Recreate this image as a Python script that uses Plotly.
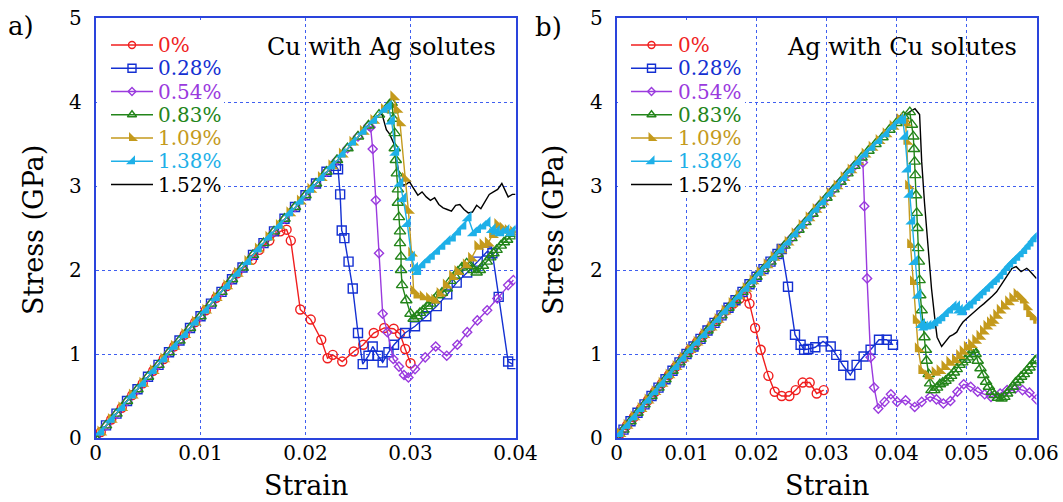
import plotly.graph_objects as go

W, H = 1063, 502

# ---------------- shared elastic loading branch ----------------
cu_load_strain = [0.0, 0.0005, 0.001, 0.0015, 0.002, 0.0025, 0.003, 0.0035, 0.004, 0.0045,
                  0.005, 0.0055, 0.006, 0.0065, 0.007, 0.0075, 0.008, 0.0085, 0.009, 0.0095,
                  0.010, 0.0105, 0.011, 0.0115, 0.012, 0.0125, 0.013, 0.0135, 0.014, 0.0145,
                  0.015, 0.0155, 0.016, 0.0165, 0.017, 0.0175, 0.018, 0.0185, 0.019, 0.0195,
                  0.020, 0.0205, 0.021, 0.0215, 0.022, 0.0225, 0.023, 0.0235, 0.024, 0.0245,
                  0.025, 0.0255, 0.026, 0.0265, 0.027, 0.0275, 0.028]
cu_load_stress = [0.00, 0.07, 0.15, 0.22, 0.29, 0.36, 0.44, 0.51, 0.58, 0.65,
                  0.73, 0.80, 0.87, 0.94, 1.02, 1.09, 1.16, 1.23, 1.31, 1.38,
                  1.45, 1.52, 1.60, 1.67, 1.74, 1.81, 1.89, 1.96, 2.03, 2.10,
                  2.18, 2.25, 2.32, 2.39, 2.46, 2.53, 2.61, 2.68, 2.75, 2.82,
                  2.89, 2.96, 3.03, 3.10, 3.17, 3.24, 3.31, 3.38, 3.45, 3.52,
                  3.59, 3.65, 3.72, 3.78, 3.85, 3.91, 3.97]

ag_load_strain = [0.0, 0.0005, 0.001, 0.0015, 0.002, 0.0025, 0.003, 0.0035, 0.004, 0.0045,
                  0.005, 0.0055, 0.006, 0.0065, 0.007, 0.0075, 0.008, 0.0085, 0.009, 0.0095,
                  0.010, 0.0105, 0.011, 0.0115, 0.012, 0.0125, 0.013, 0.0135, 0.014, 0.0145,
                  0.015, 0.0155, 0.016, 0.0165, 0.017, 0.0175, 0.018, 0.0185, 0.019, 0.0195,
                  0.020, 0.0205, 0.021, 0.0215, 0.022, 0.0225, 0.023, 0.0235, 0.024, 0.0245,
                  0.025, 0.0255, 0.026, 0.0265, 0.027, 0.0275, 0.028, 0.0285, 0.029, 0.0295,
                  0.030, 0.0305, 0.031, 0.0315, 0.032, 0.0325, 0.033, 0.0335, 0.034, 0.0345,
                  0.035, 0.0355, 0.036, 0.0365, 0.037, 0.0375, 0.038, 0.0385, 0.039, 0.0395,
                  0.040, 0.0405, 0.041, 0.0415]
ag_load_stress = [0.00, 0.05, 0.10, 0.15, 0.20, 0.25, 0.30, 0.35, 0.40, 0.45,
                  0.50, 0.55, 0.60, 0.65, 0.70, 0.75, 0.80, 0.85, 0.90, 0.95,
                  1.00, 1.05, 1.09, 1.14, 1.18, 1.23, 1.28, 1.32, 1.37, 1.41,
                  1.46, 1.51, 1.55, 1.60, 1.64, 1.69, 1.74, 1.78, 1.83, 1.87,
                  1.92, 1.97, 2.01, 2.06, 2.10, 2.15, 2.19, 2.24, 2.29, 2.33,
                  2.38, 2.43, 2.48, 2.53, 2.57, 2.62, 2.67, 2.72, 2.77, 2.81,
                  2.86, 2.91, 2.96, 3.00, 3.05, 3.10, 3.15, 3.19, 3.24, 3.29,
                  3.34, 3.38, 3.42, 3.46, 3.50, 3.54, 3.58, 3.62, 3.67, 3.71,
                  3.75, 3.79, 3.83, 3.86]

# ---------------- a) Cu with Ag solutes: post-yield branches ----------------
cu_0_strain = [0.0149, 0.0156, 0.01655, 0.0176, 0.0182, 0.0186, 0.0195, 0.0205, 0.0215, 0.0221,
               0.0226, 0.0235, 0.0246, 0.0255, 0.0265, 0.0275, 0.0284, 0.0290, 0.0295, 0.0300]
cu_0_stress = [2.12, 2.24, 2.35, 2.46, 2.48, 2.35, 1.53, 1.41, 1.17, 0.95,
               0.99, 0.91, 1.03, 1.11, 1.25, 1.31, 1.30, 1.24, 1.06, 0.89]

cu_028_strain = [0.0229, 0.0231, 0.0233, 0.02345, 0.0237, 0.0241, 0.0245, 0.0250, 0.02545, 0.0260,
                 0.0264, 0.0269, 0.02735, 0.0279, 0.02843, 0.02948, 0.03043, 0.0315, 0.0325, 0.0335,
                 0.0344, 0.0354, 0.0364, 0.0373, 0.0378, 0.0384, 0.0393, 0.0397]
cu_028_stress = [3.24, 3.20, 2.90, 2.47, 2.38, 2.10, 1.78, 1.25, 0.88, 0.98,
                 1.09, 0.98, 0.90, 1.02, 1.11, 1.25, 1.33, 1.45, 1.57, 1.71,
                 1.85, 1.97, 2.10, 2.22, 2.20, 1.68, 0.91, 0.88]

cu_054_strain = [0.0262, 0.0264, 0.0267, 0.0270, 0.02735, 0.0278, 0.02836, 0.0289, 0.02938, 0.0298,
                 0.03043, 0.0314, 0.0324, 0.03345, 0.03446, 0.0354, 0.03636, 0.0373, 0.03827, 0.0393,
                 0.0398]
cu_054_stress = [3.70, 3.44, 2.83, 2.20, 1.48, 1.26, 0.94, 0.85, 0.75, 0.72,
                 0.82, 0.96, 1.09, 0.98, 1.11, 1.26, 1.40, 1.52, 1.66, 1.82,
                 1.88]

cu_083_strain = [0.0282, 0.0283, 0.02836, 0.0285, 0.0285, 0.0286, 0.0287, 0.0288, 0.0288, 0.0289,
                 0.0290, 0.0290, 0.0291, 0.0291, 0.0292, 0.0296, 0.0300, 0.0303, 0.0306, 0.0309,
                 0.0312, 0.0316, 0.0319, 0.0322, 0.0326, 0.0330, 0.03345, 0.0338, 0.0342, 0.0345,
                 0.0349, 0.03535, 0.0357, 0.0360, 0.0363, 0.0366, 0.0369, 0.03726, 0.0376, 0.0379,
                 0.0382, 0.0386, 0.0389, 0.0392, 0.0395, 0.0398, 0.0400]
cu_083_stress = [3.99, 3.90, 3.80, 3.63, 3.45, 3.31, 3.15, 2.96, 2.80, 2.63,
                 2.46, 2.32, 2.16, 2.00, 1.82, 1.64, 1.48, 1.42, 1.45, 1.49,
                 1.52, 1.57, 1.60, 1.64, 1.70, 1.73, 1.78, 1.87, 1.93, 1.98,
                 2.03, 2.08, 2.05, 2.00, 1.97, 2.00, 2.05, 2.10, 2.15, 2.20,
                 2.24, 2.29, 2.33, 2.36, 2.40, 2.43, 2.45]

cu_109_strain = [0.0284, 0.0287, 0.0290, 0.0295, 0.0298, 0.0301, 0.0303, 0.0306, 0.0312, 0.0318,
                 0.0323, 0.0328, 0.0334, 0.0340, 0.0345, 0.0353, 0.0358, 0.0364, 0.0369, 0.0374,
                 0.0378, 0.0383, 0.0388, 0.0393, 0.0398]
cu_109_stress = [4.06, 3.91, 3.75, 3.09, 2.71, 2.20, 1.75, 1.70, 1.68, 1.66,
                 1.64, 1.72, 1.82, 1.92, 1.98, 2.06, 2.14, 2.28, 2.30, 2.32,
                 2.42, 2.54, 2.50, 2.47, 2.45]

cu_138_strain = [0.0279, 0.0282, 0.0286, 0.0290, 0.0293, 0.0297, 0.0301, 0.0304, 0.0307, 0.0311,
                 0.0316, 0.0320, 0.0325, 0.0330, 0.0335, 0.0340, 0.0345, 0.0350, 0.0355, 0.0360,
                 0.0364, 0.0369, 0.0373, 0.0378, 0.0382, 0.0386, 0.0391, 0.0396, 0.0400]
cu_138_stress = [3.95, 3.77, 3.40, 3.03, 2.85, 2.55, 2.15, 2.02, 1.98, 2.06,
                 2.12, 2.16, 2.22, 2.28, 2.34, 2.38, 2.45, 2.52, 2.62, 2.44,
                 2.48, 2.52, 2.56, 2.48, 2.46, 2.44, 2.47, 2.44, 2.50]

cu_152_strain = [0.0273, 0.0277, 0.0280, 0.0284, 0.0287, 0.0290, 0.0293, 0.0296, 0.0299, 0.0303,
                 0.0307, 0.0311, 0.0315, 0.0319, 0.0323, 0.0327, 0.0331, 0.0335, 0.0339, 0.0343,
                 0.0347, 0.0351, 0.0355, 0.0359, 0.0363, 0.0367, 0.0371, 0.0375, 0.0379, 0.0383,
                 0.0387, 0.0390, 0.0393, 0.0397, 0.0400]
cu_152_stress = [3.85, 3.67, 3.62, 3.51, 3.30, 3.07, 3.01, 3.02, 3.05, 2.97,
                 2.89, 2.93, 2.87, 2.83, 2.86, 2.78, 2.74, 2.72, 2.70, 2.77,
                 2.78, 2.72, 2.68, 2.69, 2.77, 2.73, 2.82, 2.90, 2.93, 2.96,
                 3.03, 2.95, 2.87, 2.90, 2.90]

# ---------------- b) Ag with Cu solutes: post-yield branches ----------------
ag_0_strain = [0.0157, 0.0167, 0.0176, 0.0186, 0.0190, 0.0198, 0.0206, 0.0217, 0.0226, 0.0236,
               0.0247, 0.0256, 0.0266, 0.0276, 0.0286, 0.0296]
ag_0_stress = [1.52, 1.60, 1.66, 1.69, 1.60, 1.31, 1.05, 0.74, 0.55, 0.50,
               0.50, 0.57, 0.66, 0.66, 0.53, 0.57]

ag_028_strain = [0.0236, 0.0245, 0.0255, 0.0263, 0.0268, 0.0274, 0.0284, 0.0295, 0.0306, 0.0314,
                 0.0324, 0.0334, 0.0343, 0.0353, 0.0363, 0.0375, 0.0386, 0.0395]
ag_028_stress = [2.25, 1.80, 1.23, 1.11, 1.05, 1.06, 1.08, 1.15, 1.09, 0.99,
                 0.86, 0.75, 0.87, 0.97, 1.05, 1.17, 1.17, 1.11]

ag_054_strain = [0.0352, 0.0354, 0.0358, 0.0363, 0.0368, 0.0374, 0.0383, 0.0392, 0.0401, 0.0413,
                 0.0426, 0.0436, 0.0448, 0.0457, 0.0467, 0.0477, 0.0487, 0.0496, 0.0506, 0.0516,
                 0.0526, 0.0535, 0.0548, 0.0558, 0.0570, 0.0580, 0.0590, 0.0600]
ag_054_stress = [3.28, 2.76, 1.90, 0.96, 0.60, 0.35, 0.43, 0.52, 0.43, 0.45,
                 0.37, 0.43, 0.49, 0.46, 0.41, 0.44, 0.55, 0.64, 0.61, 0.55,
                 0.52, 0.49, 0.53, 0.57, 0.59, 0.57, 0.54, 0.46]

ag_083_strain = [0.0419, 0.0422, 0.0424, 0.0425, 0.0426, 0.0427, 0.0428, 0.0429, 0.0430, 0.0431,
                 0.0432, 0.0433, 0.0434, 0.0436, 0.0438, 0.0440, 0.0442, 0.0443, 0.0446, 0.0448,
                 0.0450, 0.0454, 0.0458, 0.0462, 0.0466, 0.0470, 0.0474, 0.0478, 0.0482, 0.0486,
                 0.0490, 0.0494, 0.0498, 0.0502, 0.0506, 0.0510, 0.0513, 0.0516, 0.0520, 0.0524,
                 0.0528, 0.0532, 0.0536, 0.0540, 0.0545, 0.0550, 0.0554, 0.0558, 0.0562, 0.0566,
                 0.0570, 0.0574, 0.0578, 0.0582, 0.0586, 0.0590, 0.0594, 0.0598, 0.0600]
ag_083_stress = [3.88, 3.73, 3.59, 3.44, 3.29, 3.13, 2.89, 2.68, 2.50, 2.26,
                 2.10, 1.88, 1.70, 1.52, 1.35, 1.20, 1.05, 0.92, 0.76, 0.65,
                 0.57, 0.57, 0.60, 0.64, 0.66, 0.68, 0.71, 0.74, 0.78, 0.82,
                 0.87, 0.90, 0.93, 0.96, 1.00, 1.05, 1.00, 0.92, 0.83, 0.75,
                 0.67, 0.61, 0.55, 0.51, 0.48, 0.47, 0.49, 0.53, 0.57, 0.61,
                 0.66, 0.69, 0.73, 0.76, 0.80, 0.84, 0.88, 0.92, 0.93]

ag_109_strain = [0.0411, 0.0413, 0.04146, 0.0417, 0.0420, 0.0424, 0.0428, 0.0431, 0.0436, 0.0445,
                 0.0455, 0.0462, 0.0469, 0.0476, 0.0484, 0.0490, 0.0495, 0.0501, 0.0507, 0.0513,
                 0.0519, 0.0524, 0.0529, 0.0534, 0.0538, 0.0543, 0.0548, 0.0554, 0.0560, 0.0566,
                 0.0572, 0.0577, 0.0581, 0.0586, 0.0590, 0.0595, 0.0600]
ag_109_stress = [3.80, 3.75, 3.53, 3.00, 2.30, 1.86, 1.40, 1.06, 0.80, 0.74,
                 0.78, 0.80, 0.85, 0.90, 0.93, 0.98, 1.03, 1.08, 1.11, 1.16,
                 1.21, 1.27, 1.33, 1.37, 1.40, 1.46, 1.52, 1.57, 1.62, 1.66,
                 1.71, 1.68, 1.64, 1.56, 1.48, 1.44, 1.40]

ag_138_strain = [0.0409, 0.0412, 0.0416, 0.0419, 0.0422, 0.0426, 0.0431, 0.0436, 0.0440, 0.0445,
                 0.0450, 0.0455, 0.0460, 0.0465, 0.0470, 0.0476, 0.0481, 0.0486, 0.0490, 0.0495,
                 0.0500, 0.0505, 0.0510, 0.0515, 0.0519, 0.0524, 0.0529, 0.0534, 0.0539, 0.0543,
                 0.0548, 0.0553, 0.0558, 0.0562, 0.0567, 0.0572, 0.0577, 0.0582, 0.0587, 0.0591,
                 0.0596, 0.0600]
ag_138_stress = [3.78, 3.59, 3.20, 2.90, 2.58, 2.10, 1.70, 1.35, 1.32, 1.33,
                 1.34, 1.37, 1.40, 1.43, 1.48, 1.52, 1.56, 1.56, 1.52, 1.50,
                 1.56, 1.58, 1.63, 1.67, 1.70, 1.74, 1.78, 1.82, 1.86, 1.89,
                 1.93, 1.98, 2.03, 2.07, 2.11, 2.15, 2.19, 2.23, 2.28, 2.32,
                 2.37, 2.41]

ag_152_strain = [0.0420, 0.04264, 0.0433, 0.0436, 0.0440, 0.0443, 0.0447, 0.0450, 0.0455, 0.0458,
                 0.04645, 0.0470, 0.0476, 0.0481, 0.0486, 0.0490, 0.0495, 0.0500, 0.0505, 0.0512,
                 0.0519, 0.0525, 0.0531, 0.0537, 0.0543, 0.0549, 0.0555, 0.0560, 0.0565, 0.0571,
                 0.0575, 0.0578, 0.0582, 0.0586, 0.0590, 0.0593, 0.0598, 0.0600]
ag_152_stress = [3.89, 3.92, 3.85, 3.29, 2.80, 2.50, 2.10, 1.78, 1.40, 1.20,
                 1.09, 1.15, 1.21, 1.23, 1.26, 1.32, 1.38, 1.42, 1.46, 1.51,
                 1.56, 1.60, 1.64, 1.69, 1.74, 1.82, 1.90, 1.96, 2.02, 2.04,
                 2.00, 1.98, 2.00, 2.02, 1.99, 1.96, 1.91, 1.90]

# ---------------- series styling ----------------
labels = ["0%", "0.28%", "0.54%", "0.83%", "1.09%", "1.38%", "1.52%"]
colors = ["#f01e1e", "#1430d2", "#9a3ade", "#23851a", "#c49a1c", "#1eb0e8", "#000000"]
symbols = ["circle-open", "square-open", "diamond-open", "triangle-up-open",
           "triangle-sw", "triangle-se", None]
sizes = [9, 9, 7, 10, 11, 11, 0]
key_sizes = [7, 8, 6, 8, 10, 10, 0]
# which half of the shared loading samples each series carries (-1 = all)
parity = [1, 0, 0, 0, 1, 1, -1]

cu_limit = [0.0140, 0.0225, 0.0260, 0.0280, 0.0280, 0.0275, 0.0270]
ag_limit = [0.0150, 0.0235, 0.0345, 0.0415, 0.0410, 0.0405, 0.0415]

cu_post = [(cu_0_strain, cu_0_stress), (cu_028_strain, cu_028_stress),
           (cu_054_strain, cu_054_stress), (cu_083_strain, cu_083_stress),
           (cu_109_strain, cu_109_stress), (cu_138_strain, cu_138_stress),
           (cu_152_strain, cu_152_stress)]
ag_post = [(ag_0_strain, ag_0_stress), (ag_028_strain, ag_028_stress),
           (ag_054_strain, ag_054_stress), (ag_083_strain, ag_083_stress),
           (ag_109_strain, ag_109_stress), (ag_138_strain, ag_138_stress),
           (ag_152_strain, ag_152_stress)]


def build(load_x, load_y, par, limit, post):
    xs, ys = [], []
    for i, (sx, sy) in enumerate(zip(load_x, load_y)):
        if sx <= limit + 1e-9 and (par < 0 or i % 2 == par):
            xs.append(sx)
            ys.append(sy)
    return xs + list(post[0]), ys + list(post[1])


def marker_style(k, size):
    open_sym = symbols[k].endswith("open")
    return dict(symbol=symbols[k], size=size, color=colors[k],
                line=dict(color=colors[k], width=1.4 if open_sym else 0))


FONT = "DejaVu Serif"
fig = go.Figure()

# black curve first so the marker series sit on top of it
order = [6, 0, 1, 2, 3, 4, 5]
for lx, ly, limits, posts, xa, ya in [
        (cu_load_strain, cu_load_stress, cu_limit, cu_post, "x", "y"),
        (ag_load_strain, ag_load_stress, ag_limit, ag_post, "x2", "y2")]:
    for k in order:
        xs, ys = build(lx, ly, parity[k], limits[k], posts[k])
        if symbols[k] is None:
            fig.add_trace(go.Scatter(x=xs, y=ys, mode="lines", name=labels[k],
                                     line=dict(color=colors[k], width=1.4),
                                     xaxis=xa, yaxis=ya, showlegend=False))
        else:
            fig.add_trace(go.Scatter(x=xs, y=ys, mode="lines+markers", name=labels[k],
                                     line=dict(color=colors[k], width=1.4),
                                     marker=marker_style(k, sizes[k]),
                                     xaxis=xa, yaxis=ya, showlegend=False))


def px_x(p):
    return p / W


def px_y(p):
    return 1 - p / H


# ---------------- key boxes (pixel-frame overlay axes) ----------------
KEY_ROW0, KEY_STEP = 45, 23.25
key_panels = [dict(box=(97, 20, 224, 197), line=(111, 153), text_x=156),
              dict(box=(618, 20, 745, 197), line=(631, 672), text_x=676)]
shapes = []
annotations = []
for kp in key_panels:
    x0, y0, x1, y1 = kp["box"]
    shapes.append(dict(type="rect", xref="x3", yref="y3", x0=x0, y0=y0, x1=x1, y1=y1,
                       fillcolor="white", line=dict(width=0), layer="below"))
    la, lb = kp["line"]
    for k in range(len(labels)):
        yk = KEY_ROW0 + k * KEY_STEP
        fig.add_trace(go.Scatter(x=[la, lb], y=[yk, yk], mode="lines",
                                 line=dict(color=colors[k], width=1.6),
                                 xaxis="x3", yaxis="y3", showlegend=False, hoverinfo="skip"))
        if symbols[k] is not None:
            fig.add_trace(go.Scatter(x=[(la + lb) / 2], y=[yk], mode="markers",
                                     marker=marker_style(k, key_sizes[k]),
                                     xaxis="x3", yaxis="y3", showlegend=False, hoverinfo="skip"))
        annotations.append(dict(text=labels[k], x=px_x(kp["text_x"]), y=px_y(yk),
                                xanchor="left", font=dict(size=20, color=colors[k])))

FRAME = "#2a44dc"
GRID = "#3f5ff0"
axis_common = dict(showline=True, linecolor=FRAME, linewidth=1.6, mirror=True,
                   showgrid=True, gridcolor=GRID, gridwidth=1, griddash="dot",
                   zeroline=False, ticks="", color="black", automargin=False,
                   tickfont=dict(family=FONT, size=20, color="black"))

fig.update_layout(
    width=W, height=H,
    margin=dict(l=0, r=0, t=0, b=0, autoexpand=False),
    paper_bgcolor="white", plot_bgcolor="rgba(0,0,0,0)",
    font=dict(family=FONT, color="black"),
    showlegend=False,
    xaxis=dict(domain=[px_x(95.5), px_x(515.5)], range=[0, 0.04],
               tickvals=[0, 0.01, 0.02, 0.03, 0.04],
               ticktext=["0", "0.01", "0.02", "0.03", "0.04"],
               anchor="y", ticklabelstandoff=-4, **axis_common),
    yaxis=dict(domain=[px_y(438), px_y(18)], range=[0, 5], dtick=1,
               anchor="x", ticklabelstandoff=8, **axis_common),
    xaxis2=dict(domain=[px_x(616.5), px_x(1036.5)], range=[0, 0.06],
                tickvals=[0, 0.01, 0.02, 0.03, 0.04, 0.05, 0.06],
                ticktext=["0", "0.01", "0.02", "0.03", "0.04", "0.05", "0.06"],
                anchor="y2", ticklabelstandoff=-4, **axis_common),
    yaxis2=dict(domain=[px_y(438), px_y(18)], range=[0, 5], dtick=1,
                anchor="x2", ticklabelstandoff=8, **axis_common),
    xaxis3=dict(domain=[0, 1], range=[0, W], visible=False, fixedrange=True, anchor="y3"),
    yaxis3=dict(domain=[0, 1], range=[H, 0], visible=False, fixedrange=True, anchor="x3"),
    shapes=shapes,
)

annotations += [
    dict(text="a)", x=px_x(21), y=px_y(26), font=dict(size=26)),
    dict(text="b)", x=px_x(548), y=px_y(27), font=dict(size=26)),
    dict(text="Cu with Ag solutes", x=px_x(381), y=px_y(47), font=dict(size=24)),
    dict(text="Ag with Cu solutes", x=px_x(902), y=px_y(47), font=dict(size=24)),
    dict(text="Stress (GPa)", x=px_x(33), y=px_y(230), textangle=-90, font=dict(size=27)),
    dict(text="Stress (GPa)", x=px_x(553), y=px_y(230), textangle=-90, font=dict(size=27)),
    dict(text="Strain", x=px_x(305.5), y=px_y(485), font=dict(size=27)),
    dict(text="Strain", x=px_x(826.5), y=px_y(485), font=dict(size=27)),
]
for a in annotations:
    a.setdefault("xanchor", "center")
    a.update(xref="paper", yref="paper", showarrow=False, yanchor="middle")
    a["font"] = dict(family=FONT, **{"color": "black", **a["font"]})
fig.update_layout(annotations=annotations)

fig.write_html("out.html")
